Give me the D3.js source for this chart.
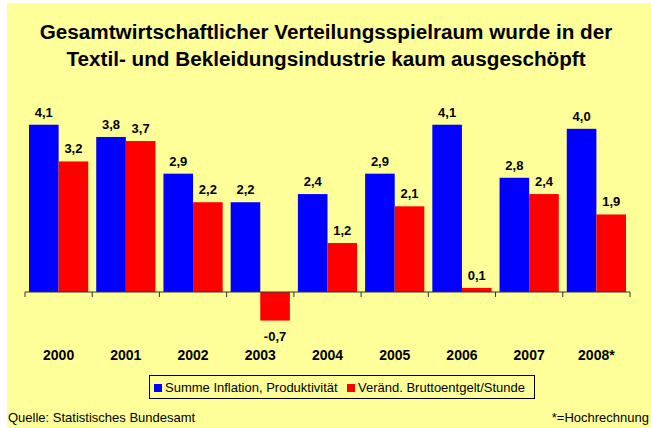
<!DOCTYPE html>
<html>
<head>
<meta charset="utf-8">
<script src="https://cdn.jsdelivr.net/npm/d3@7"></script>
<style>
  body { margin: 0; background: #fff; }
  svg, svg text { font-family: "Liberation Sans", Arial, Helvetica, sans-serif; }
  svg { display: block; }
</style>
</head>
<body>
<div id="chart"></div>
<script>
const years = ['2000', '2001', '2002', '2003', '2004', '2005', '2006', '2007', '2008*'];
const seriesNames = ['Summe Inflation, Produktivität', 'Veränd. Bruttoentgelt/Stunde'];
const summe = [4.1, 3.8, 2.9, 2.2, 2.4, 2.9, 4.1, 2.8, 4.0];
const entgelt = [3.2, 3.7, 2.2, -0.7, 1.2, 2.1, 0.1, 2.4, 1.9];
const colors = ['#0000ff', '#ff0000'];

const width = 651, height = 428;
const font = 'Liberation Sans, Arial, sans-serif';

const svg = d3.select('#chart')
    .append('svg')
    .attr('width', width)
    .attr('height', height)
    .attr('font-family', font);

// yellow panel
svg.append('rect')
    .attr('x', 7).attr('y', 3)
    .attr('width', width - 7).attr('height', height - 3)
    .attr('fill', '#ffff99');

// title
const title = svg.append('text')
    .attr('text-anchor', 'middle')
    .attr('font-weight', 'bold')
    .attr('font-size', 20.7)
    .attr('fill', '#000');
title.append('tspan').attr('x', 326).attr('y', 39)
    .text('Gesamtwirtschaftlicher Verteilungsspielraum wurde in der');
title.append('tspan').attr('x', 326).attr('y', 66)
    .text('Textil- und Bekleidungsindustrie kaum ausgeschöpft');

const x = d3.scaleBand()
    .domain(years)
    .range([25, 630])
    .paddingInner(0);

const xs = d3.scaleBand()
    .domain([0, 1])
    .range([4, x.bandwidth() - 4]);

const y = d3.scaleLinear()
    .domain([-1.5, 4.5])
    .range([353.2, 108.4]);

const data = years.map((yr, i) => ({ year: yr, values: [summe[i], entgelt[i]] }));

const groups = svg.selectAll('g.grp')
    .data(data)
    .enter()
    .append('g')
    .attr('class', 'grp')
    .attr('transform', d => `translate(${x(d.year)},0)`);

groups.selectAll('rect')
    .data(d => d.values.map((v, k) => ({ v, k })))
    .enter()
    .append('rect')
    .attr('x', d => xs(d.k))
    .attr('y', d => y(Math.max(0, d.v)))
    .attr('width', xs.bandwidth())
    .attr('height', d => Math.abs(y(d.v) - y(0)))
    .attr('fill', d => colors[d.k]);

groups.selectAll('text.val')
    .data(d => d.values.map((v, k) => ({ v, k })))
    .enter()
    .append('text')
    .attr('class', 'val')
    .attr('x', d => xs(d.k) + xs.bandwidth() / 2)
    .attr('y', d => d.v >= 0 ? y(d.v) - 8 : y(d.v) + 20)
    .attr('text-anchor', 'middle')
    .attr('font-weight', 'bold')
    .attr('font-size', 13)
    .text(d => d.v.toFixed(1).replace('.', ','));

// axis line with ticks at category boundaries
const axisY = y(0);
svg.append('line')
    .attr('x1', x.range()[0]).attr('x2', x.range()[1])
    .attr('y1', axisY).attr('y2', axisY)
    .attr('stroke', '#333').attr('stroke-width', 1);

const boundaries = years.map(yr => x(yr)).concat([x.range()[1]]);
svg.selectAll('line.tick')
    .data(boundaries)
    .enter()
    .append('line')
    .attr('class', 'tick')
    .attr('x1', d => d).attr('x2', d => d)
    .attr('y1', axisY).attr('y2', axisY + 5)
    .attr('stroke', '#333').attr('stroke-width', 1);

svg.selectAll('text.cat')
    .data(years)
    .enter()
    .append('text')
    .attr('class', 'cat')
    .attr('x', d => x(d) + x.bandwidth() / 2)
    .attr('y', 360)
    .attr('text-anchor', 'middle')
    .attr('font-weight', 'bold')
    .attr('font-size', 14)
    .text(d => d);

// legend
const legend = svg.append('g');
legend.append('rect')
    .attr('x', 149.5).attr('y', 375.5)
    .attr('width', 385).attr('height', 23)
    .attr('fill', '#ffff99')
    .attr('stroke', '#000').attr('stroke-width', 1);

const legendX = [154, 347];
seriesNames.forEach((name, k) => {
    legend.append('rect')
        .attr('x', legendX[k]).attr('y', 384)
        .attr('width', 8).attr('height', 8)
        .attr('fill', colors[k]);
    legend.append('text')
        .attr('x', legendX[k] + 11).attr('y', 392)
        .attr('font-size', 13)
        .text(name);
});

// footer
svg.append('text')
    .attr('x', 8).attr('y', 422)
    .attr('font-size', 13)
    .text('Quelle: Statistisches Bundesamt');
svg.append('text')
    .attr('x', 649).attr('y', 422)
    .attr('text-anchor', 'end')
    .attr('font-size', 13)
    .text('*=Hochrechnung');
</script>
</body>
</html>
